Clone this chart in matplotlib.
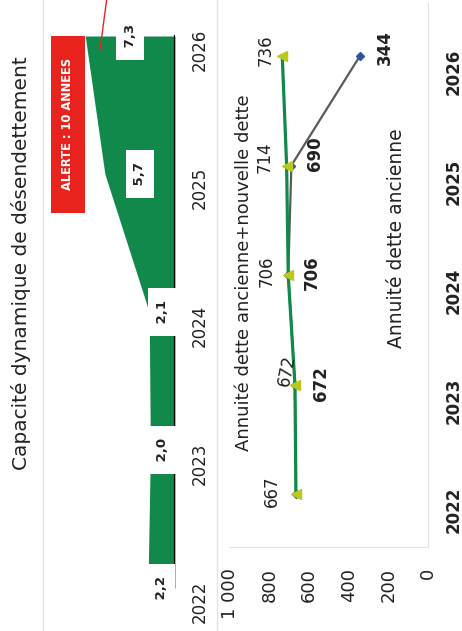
import matplotlib
matplotlib.use("Agg")
import matplotlib.pyplot as plt
from matplotlib.patches import Rectangle

annees = [2022, 2023, 2024, 2025, 2026]
capacite = [2.2, 2.0, 2.1, 5.7, 7.3]
seuil_alerte = 10
annuite_totale = [667, 672, 706, 714, 736]
annuite_ancienne = [667, 672, 706, 690, 344]
valeurs_ticks = [0, 200, 400, 600, 800, 1000]
labels_ticks = ["0", "200", "400", "600", "800", "1 000"]

VERT = "#11894a"
ROUGE = "#e8231d"
JAUNE = "#bcc91c"
GRIS = "#5a5a5a"
BLEU = "#2f5597"

W, H = 462, 631
plt.rcParams['font.family'] = ['DejaVu Sans']
fig = plt.figure(figsize=(W / 100, H / 100), dpi=100)


def px_axes(x0, x1, y0, y1):
    # pixel box of the picture -> axes (y0 top, y1 bottom)
    return fig.add_axes([x0 / W, 1 - y1 / H, (x1 - x0) / W, (y1 - y0) / H])


# faint panel borders
for xp in (43, 217):
    fig.add_artist(plt.Line2D([xp / W, xp / W], [0, 1], color="#e4e4e4", lw=1))

# ---- top chart (drawn rotated: value axis horizontal, inverted) ----
ax1 = px_axes(40, 175, 5, 620)
ax1.set_xlim(135 / 12.3, 0)
ax1.set_ylim(2022 - 32 / 138, 2026 + 31 / 138)
ax1.fill_betweenx(annees, 0, capacite, color=VERT, lw=0, zorder=1)
ax1.plot([0, 0], [annees[0], annees[-1]], color="black", lw=1.6, zorder=2)
for a, v in zip(annees, capacite):
    s = f" {v:.1f} ".replace(".", ",")
    ax1.text(v / 2, a, s, rotation=90, ha="center", va="center", fontsize=9.5,
             fontweight="bold", color="#222222", zorder=3,
             bbox=dict(boxstyle="square,pad=0.55", fc="white", ec="none"))

# alert box
ax1.add_patch(Rectangle((7.35, 2024.72), seuil_alerte + 0.1 - 7.35, 2026.0 - 2024.72,
                        color=ROUGE, lw=0, zorder=4))
ax1.text((7.35 + seuil_alerte + 0.1) / 2, 2025.36, "ALERTE : 10 ANNEES", rotation=90,
         ha="center", va="center", color="white", fontsize=8.3, fontweight="bold", zorder=5)
ax1.plot([6.1, 5.5], [2025.9, 2026.3], color=ROUGE, lw=1, zorder=4, clip_on=False)

ax1.set_xticks([])
ax1.set_yticks(annees)
ax1.yaxis.tick_right()
ax1.tick_params(axis="y", length=0, pad=11, labelrotation=90, labelsize=12, labelcolor="#222222")
for sp in ax1.spines.values():
    sp.set_visible(False)

fig.text(21 / W, 1 - 263 / H, "Capacité dynamique de désendettement", rotation=90,
         ha="center", va="center", fontsize=14.5, color="#222222")

# ---- bottom chart ----
ax2 = px_axes(230, 428, 3, 547)
ax2.set_xlim(1000, 0)
ax2.set_ylim(2022 - 53 / 109.5, 2026 + 53 / 109.5)
ax2.plot(annuite_ancienne, annees, color=GRIS, lw=1.6, marker="D", ms=4,
         mfc=BLEU, mec=BLEU, zorder=2)
ax2.plot(annuite_totale, annees, color=VERT, lw=2.3, marker="<", ms=7,
         mfc=JAUNE, mec=JAUNE, zorder=3)

off_haut = [(-24, 3), (-8, 14), (-22, 4), (-22, 8), (-17, 6)]
rot_haut = [90, 79, 90, 90, 90]
for a, v, o, r in zip(annees, annuite_totale, off_haut, rot_haut):
    ax2.annotate(str(v), (v, a), xytext=o, textcoords="offset pixels", rotation=r,
                 ha="center", va="center", fontsize=12, color="#222222", zorder=4)
off_bas = [None, (26, 1), (24, 2), (24, 12), (25, 8)]
for a, v, o in zip(annees, annuite_ancienne, off_bas):
    if o is None:
        continue
    ax2.annotate(str(v), (v, a), xytext=o, textcoords="offset pixels", rotation=90,
                 ha="center", va="center", fontsize=12, fontweight="bold", color="#222222")

ax2.text(0.072, 0.504, "Annuité dette ancienne+nouvelle dette", transform=ax2.transAxes,
         rotation=90, ha="center", va="center", fontsize=13, color="#222222")
ax2.text(0.843, 0.568, "Annuité dette ancienne", transform=ax2.transAxes,
         rotation=90, ha="center", va="center", fontsize=13.5, color="#222222")

ax2.set_xticks(valeurs_ticks)
ax2.set_xticklabels(labels_ticks)
ax2.tick_params(axis="x", length=0, pad=15, labelrotation=90, labelsize=13, labelcolor="#222222")
ax2.set_yticks(annees)
ax2.yaxis.tick_right()
ax2.tick_params(axis="y", length=0, pad=12, labelrotation=90, labelsize=12, labelcolor="#222222")
for lab in ax2.get_yticklabels():
    lab.set_fontweight("bold")
for k in ("top", "left"):
    ax2.spines[k].set_visible(False)
for k in ("bottom", "right"):
    ax2.spines[k].set_color("#e2e2e2")

fig.savefig("out.png", dpi=100)
